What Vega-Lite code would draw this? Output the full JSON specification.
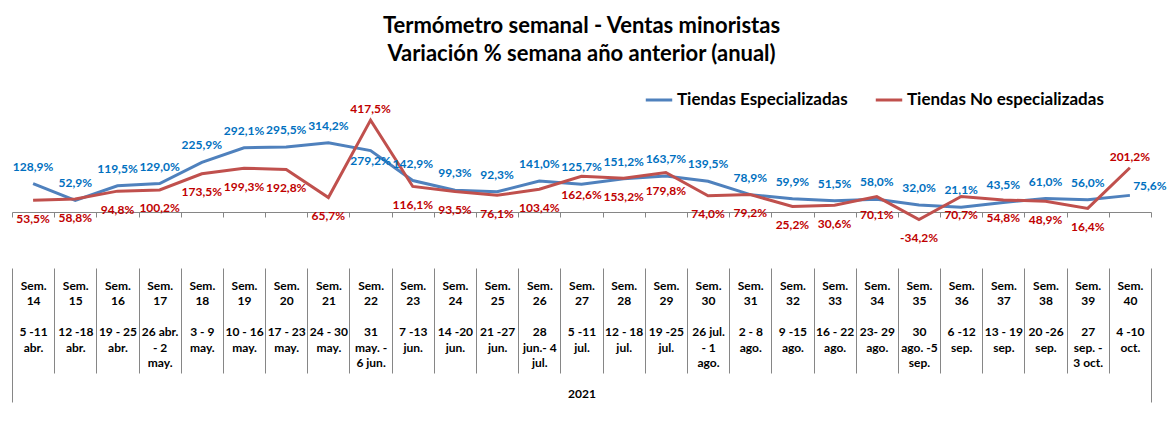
{
  "$schema": "https://vega.github.io/schema/vega-lite/v6.json",
  "width": 1139,
  "height": 110,
  "autosize": "none",
  "padding": {"left": 12, "top": 102, "right": 21, "bottom": 230},
  "title": {
    "text": ["Termómetro semanal - Ventas minoristas", "Variación % semana año anterior (anual)"],
    "font": "Lato", "fontSize": 22, "fontWeight": "bold", "lineHeight": 28,
    "color": "#000000", "anchor": "middle", "offset": 19
  },
  "config": {
    "font": "Lato",
    "view": {"stroke": null},
    "locale": {"number": {"decimal": ",", "thousands": ".", "grouping": [3], "currency": ["", " €"], "minus": "-"}}
  },
  "data": {
    "values": [
      {"sem": 14, "cat": "Sem.|14|\u2800|5 -11|abr.", "serie": "Tiendas Especializadas", "valor": 1.289},
      {"sem": 15, "cat": "Sem.|15|\u2800|12 -18|abr.", "serie": "Tiendas Especializadas", "valor": 0.529},
      {"sem": 16, "cat": "Sem.|16|\u2800|19 - 25|abr.", "serie": "Tiendas Especializadas", "valor": 1.195},
      {"sem": 17, "cat": "Sem.|17|\u2800|26 abr.|- 2|may.", "serie": "Tiendas Especializadas", "valor": 1.290},
      {"sem": 18, "cat": "Sem.|18|\u2800|3 - 9|may.", "serie": "Tiendas Especializadas", "valor": 2.259},
      {"sem": 19, "cat": "Sem.|19|\u2800|10 - 16|may.", "serie": "Tiendas Especializadas", "valor": 2.921},
      {"sem": 20, "cat": "Sem.|20|\u2800|17 - 23|may.", "serie": "Tiendas Especializadas", "valor": 2.955},
      {"sem": 21, "cat": "Sem.|21|\u2800|24 - 30|may.", "serie": "Tiendas Especializadas", "valor": 3.142},
      {"sem": 22, "cat": "Sem.|22|\u2800|31|may. -|6 jun.", "serie": "Tiendas Especializadas", "valor": 2.792},
      {"sem": 23, "cat": "Sem.|23|\u2800|7 -13|jun.", "serie": "Tiendas Especializadas", "valor": 1.429},
      {"sem": 24, "cat": "Sem.|24|\u2800|14 -20|jun.", "serie": "Tiendas Especializadas", "valor": 0.993},
      {"sem": 25, "cat": "Sem.|25|\u2800|21 -27|jun.", "serie": "Tiendas Especializadas", "valor": 0.923},
      {"sem": 26, "cat": "Sem.|26|\u2800|28|jun.- 4|jul.", "serie": "Tiendas Especializadas", "valor": 1.410},
      {"sem": 27, "cat": "Sem.|27|\u2800|5 -11|jul.", "serie": "Tiendas Especializadas", "valor": 1.257},
      {"sem": 28, "cat": "Sem.|28|\u2800|12 - 18|jul.", "serie": "Tiendas Especializadas", "valor": 1.512},
      {"sem": 29, "cat": "Sem.|29|\u2800|19 -25|jul.", "serie": "Tiendas Especializadas", "valor": 1.637},
      {"sem": 30, "cat": "Sem.|30|\u2800|26 jul.|- 1|ago.", "serie": "Tiendas Especializadas", "valor": 1.395},
      {"sem": 31, "cat": "Sem.|31|\u2800|2 - 8|ago.", "serie": "Tiendas Especializadas", "valor": 0.789},
      {"sem": 32, "cat": "Sem.|32|\u2800|9 -15|ago.", "serie": "Tiendas Especializadas", "valor": 0.599},
      {"sem": 33, "cat": "Sem.|33|\u2800|16 - 22|ago.", "serie": "Tiendas Especializadas", "valor": 0.515},
      {"sem": 34, "cat": "Sem.|34|\u2800|23- 29|ago.", "serie": "Tiendas Especializadas", "valor": 0.580},
      {"sem": 35, "cat": "Sem.|35|\u2800|30|ago. -5|sep.", "serie": "Tiendas Especializadas", "valor": 0.320},
      {"sem": 36, "cat": "Sem.|36|\u2800|6 -12|sep.", "serie": "Tiendas Especializadas", "valor": 0.211},
      {"sem": 37, "cat": "Sem.|37|\u2800|13 - 19|sep.", "serie": "Tiendas Especializadas", "valor": 0.435},
      {"sem": 38, "cat": "Sem.|38|\u2800|20 -26|sep.", "serie": "Tiendas Especializadas", "valor": 0.610},
      {"sem": 39, "cat": "Sem.|39|\u2800|27|sep. -|3 oct.", "serie": "Tiendas Especializadas", "valor": 0.560},
      {"sem": 40, "cat": "Sem.|40|\u2800|4 -10|oct.", "serie": "Tiendas Especializadas", "valor": 0.756},
      {"sem": 14, "cat": "Sem.|14|\u2800|5 -11|abr.", "serie": "Tiendas No especializadas", "valor": 0.535},
      {"sem": 15, "cat": "Sem.|15|\u2800|12 -18|abr.", "serie": "Tiendas No especializadas", "valor": 0.588},
      {"sem": 16, "cat": "Sem.|16|\u2800|19 - 25|abr.", "serie": "Tiendas No especializadas", "valor": 0.948},
      {"sem": 17, "cat": "Sem.|17|\u2800|26 abr.|- 2|may.", "serie": "Tiendas No especializadas", "valor": 1.002},
      {"sem": 18, "cat": "Sem.|18|\u2800|3 - 9|may.", "serie": "Tiendas No especializadas", "valor": 1.735},
      {"sem": 19, "cat": "Sem.|19|\u2800|10 - 16|may.", "serie": "Tiendas No especializadas", "valor": 1.993},
      {"sem": 20, "cat": "Sem.|20|\u2800|17 - 23|may.", "serie": "Tiendas No especializadas", "valor": 1.928},
      {"sem": 21, "cat": "Sem.|21|\u2800|24 - 30|may.", "serie": "Tiendas No especializadas", "valor": 0.657},
      {"sem": 22, "cat": "Sem.|22|\u2800|31|may. -|6 jun.", "serie": "Tiendas No especializadas", "valor": 4.175},
      {"sem": 23, "cat": "Sem.|23|\u2800|7 -13|jun.", "serie": "Tiendas No especializadas", "valor": 1.161},
      {"sem": 24, "cat": "Sem.|24|\u2800|14 -20|jun.", "serie": "Tiendas No especializadas", "valor": 0.935},
      {"sem": 25, "cat": "Sem.|25|\u2800|21 -27|jun.", "serie": "Tiendas No especializadas", "valor": 0.761},
      {"sem": 26, "cat": "Sem.|26|\u2800|28|jun.- 4|jul.", "serie": "Tiendas No especializadas", "valor": 1.034},
      {"sem": 27, "cat": "Sem.|27|\u2800|5 -11|jul.", "serie": "Tiendas No especializadas", "valor": 1.626},
      {"sem": 28, "cat": "Sem.|28|\u2800|12 - 18|jul.", "serie": "Tiendas No especializadas", "valor": 1.532},
      {"sem": 29, "cat": "Sem.|29|\u2800|19 -25|jul.", "serie": "Tiendas No especializadas", "valor": 1.798},
      {"sem": 30, "cat": "Sem.|30|\u2800|26 jul.|- 1|ago.", "serie": "Tiendas No especializadas", "valor": 0.740},
      {"sem": 31, "cat": "Sem.|31|\u2800|2 - 8|ago.", "serie": "Tiendas No especializadas", "valor": 0.792},
      {"sem": 32, "cat": "Sem.|32|\u2800|9 -15|ago.", "serie": "Tiendas No especializadas", "valor": 0.252},
      {"sem": 33, "cat": "Sem.|33|\u2800|16 - 22|ago.", "serie": "Tiendas No especializadas", "valor": 0.306},
      {"sem": 34, "cat": "Sem.|34|\u2800|23- 29|ago.", "serie": "Tiendas No especializadas", "valor": 0.701},
      {"sem": 35, "cat": "Sem.|35|\u2800|30|ago. -5|sep.", "serie": "Tiendas No especializadas", "valor": -0.342},
      {"sem": 36, "cat": "Sem.|36|\u2800|6 -12|sep.", "serie": "Tiendas No especializadas", "valor": 0.707},
      {"sem": 37, "cat": "Sem.|37|\u2800|13 - 19|sep.", "serie": "Tiendas No especializadas", "valor": 0.548},
      {"sem": 38, "cat": "Sem.|38|\u2800|20 -26|sep.", "serie": "Tiendas No especializadas", "valor": 0.489},
      {"sem": 39, "cat": "Sem.|39|\u2800|27|sep. -|3 oct.", "serie": "Tiendas No especializadas", "valor": 0.164},
      {"sem": 40, "cat": "Sem.|40|\u2800|4 -10|oct.", "serie": "Tiendas No especializadas", "valor": 2.012}
    ]
  },
  "encoding": {
    "x": {
      "field": "cat", "type": "nominal", "sort": null,
      "scale": {"type": "band", "paddingInner": 0, "paddingOuter": 0},
      "axis": {
        "orient": "bottom",
        "title": "2021",
        "titleFont": "Lato", "titleFontSize": 12, "titleFontWeight": "bold", "titleColor": "#000000",
        "titleY": 181, "titleBaseline": "middle",
        "domainColor": "#868686", "domainWidth": 1,
        "tickBand": "extent",
        "tickColor": "#868686", "tickWidth": 1,
        "tickSize": {"condition": {"test": "datum.index === 1 || datum.index < 0", "value": 190}, "value": 161},
        "tickDash": {"condition": {"test": "datum.index === 1 || datum.index < 0", "value": [5, 51, 134]}, "value": [5, 51, 105]},
        "labelPadding": {"condition": {"test": "datum.index === 1", "value": -122}, "value": -93},
        "labelExpr": "split(datum.label, '|')",
        "labelFont": "Lato", "labelFontSize": 12, "labelFontWeight": "bold", "labelColor": "#000000",
        "labelLineHeight": 15.5, "labelAngle": 0, "labelAlign": "center", "labelBaseline": "top",
        "labelOverlap": false, "labelBound": false, "labelFlush": false, "labelLimit": 0
      }
    },
    "y": {
      "field": "valor", "type": "quantitative",
      "scale": {"domain": [0, 5], "nice": false, "zero": false},
      "axis": null
    }
  },
  "layer": [
    {
      "mark": {"type": "line", "strokeWidth": 3},
      "encoding": {
        "color": {
          "field": "serie", "type": "nominal",
          "scale": {"domain": ["Tiendas Especializadas", "Tiendas No especializadas"], "range": ["#4F81BD", "#C0504D"]},
          "legend": {
            "orient": "none", "legendX": 632, "legendY": -17, "direction": "horizontal", "title": null,
            "symbolType": "stroke", "symbolStrokeWidth": 3, "symbolSize": 700,
            "labelFont": "Lato", "labelFontSize": 17, "labelFontWeight": "bold", "labelColor": "#000000",
            "labelOffset": 3, "columnPadding": 21, "labelLimit": 0
          }
        }
      }
    },
    {
      "transform": [{"filter": "datum.serie === 'Tiendas Especializadas' && datum.sem !== 22 && datum.sem !== 40"}],
      "mark": {"type": "text", "dy": -17, "color": "#0070C0", "fontWeight": "bold", "fontSize": 12, "font": "Lato"},
      "encoding": {"text": {"field": "valor", "type": "quantitative", "format": ".1%"}}
    },
    {
      "transform": [{"filter": "datum.serie === 'Tiendas Especializadas' && datum.sem === 22"}],
      "mark": {"type": "text", "dy": 10, "color": "#0070C0", "fontWeight": "bold", "fontSize": 12, "font": "Lato"},
      "encoding": {"text": {"field": "valor", "type": "quantitative", "format": ".1%"}}
    },
    {
      "transform": [{"filter": "datum.serie === 'Tiendas Especializadas' && datum.sem === 40"}],
      "mark": {"type": "text", "dx": 20, "dy": -9, "color": "#0070C0", "fontWeight": "bold", "fontSize": 12, "font": "Lato"},
      "encoding": {"text": {"field": "valor", "type": "quantitative", "format": ".1%"}}
    },
    {
      "transform": [{"filter": "datum.serie === 'Tiendas No especializadas' && datum.sem !== 22 && datum.sem !== 40"}],
      "mark": {"type": "text", "dy": 18.5, "color": "#C00000", "fontWeight": "bold", "fontSize": 12, "font": "Lato"},
      "encoding": {"text": {"field": "valor", "type": "quantitative", "format": ".1%"}}
    },
    {
      "transform": [{"filter": "datum.serie === 'Tiendas No especializadas' && (datum.sem === 22 || datum.sem === 40)"}],
      "mark": {"type": "text", "dy": -11, "color": "#C00000", "fontWeight": "bold", "fontSize": 12, "font": "Lato"},
      "encoding": {"text": {"field": "valor", "type": "quantitative", "format": ".1%"}}
    }
  ]
}
